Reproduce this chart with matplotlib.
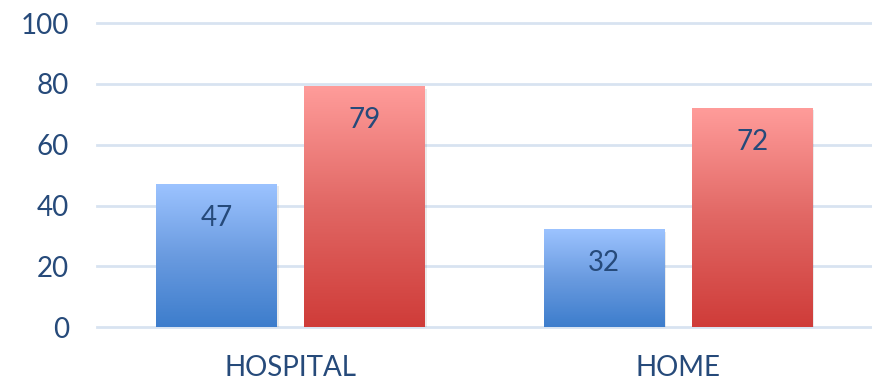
import numpy as np
import matplotlib.pyplot as plt
from matplotlib.colors import LinearSegmentedColormap

categories = ['HOSPITAL', 'HOME']
series_a = [47, 32]
series_b = [79, 72]
yticks = [0, 20, 40, 60, 80, 100]

text_color = '#264a7a'
plt.rcParams['font.family'] = ['Lato', 'DejaVu Sans']

blue = LinearSegmentedColormap.from_list('blue', ['#3d7dcc', '#6a9be0', '#9cc3ff'])
red = LinearSegmentedColormap.from_list('red', ['#cf3c39', '#e16764', '#ff9c9a'])

fig = plt.figure(figsize=(8.72, 3.8), dpi=100)
ax = fig.add_axes([0.111, 0.139, 0.889, 0.80])

x = np.arange(len(categories))
w = 0.312
off = 0.191
bars_a = ax.bar(x - off, series_a, w, facecolor='none', edgecolor='none')
bars_b = ax.bar(x + off, series_b, w, facecolor='none', edgecolor='none')

grad = np.linspace(0, 1, 256).reshape(-1, 1)
for bars, cmap, vals in [(bars_a, blue, series_a), (bars_b, red, series_b)]:
    for b, v in zip(bars, vals):
        x0, h, bw = b.get_x(), b.get_height(), b.get_width()
        # soft drop shadow
        ax.add_patch(plt.Rectangle((x0 + 0.004, -0.6), bw, h, facecolor='#000000',
                                   alpha=0.08, edgecolor='none', zorder=2))
        ax.imshow(grad, cmap=cmap, origin='lower', aspect='auto',
                  extent=(x0, x0 + bw, 0, h), zorder=3)
        ax.text(x0 + bw / 2, h - 11, str(v), ha='center', va='center',
                fontsize=20, color=text_color, zorder=4)

ax.set_xlim(-0.5, 1.5)
ax.set_ylim(0, 100)
ax.set_yticks(yticks)
ax.set_xticks(x)
ax.set_xticklabels(categories)
ax.tick_params(axis='both', length=0, labelsize=20, labelcolor=text_color)
ax.tick_params(axis='y', pad=20)
ax.tick_params(axis='x', pad=20)
for s in ax.spines.values():
    s.set_visible(False)
ax.yaxis.grid(True, color='#d8e3f1', linewidth=2)
for gl in ax.get_ygridlines():
    gl.set_clip_on(False)
ax.set_axisbelow(True)

fig.savefig('out.png')
